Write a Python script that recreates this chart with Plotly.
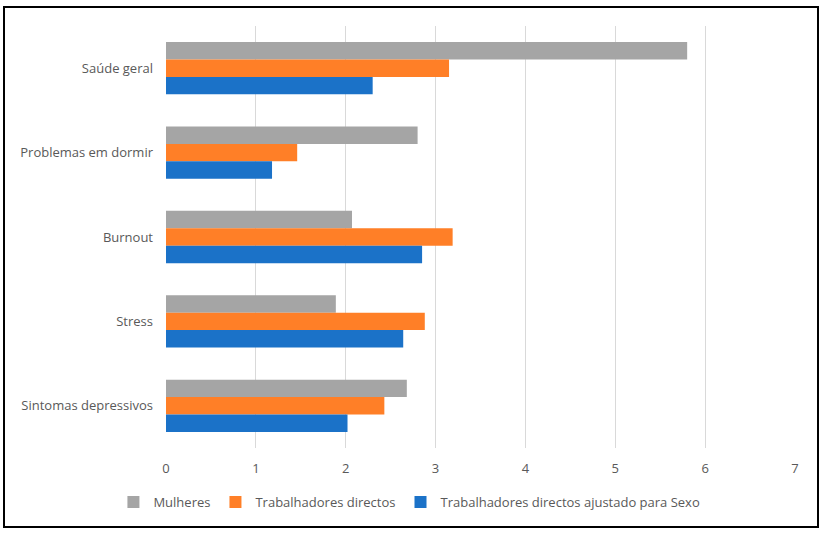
import plotly.graph_objects as go

categories = ["Saúde geral", "Problemas em dormir", "Burnout", "Stress", "Sintomas depressivos"]
mulheres = [5.80, 2.80, 2.07, 1.89, 2.68]
trab_directos = [3.15, 1.46, 3.19, 2.88, 2.43]
trab_ajustado = [2.30, 1.18, 2.85, 2.64, 2.02]
series_names = ["Mulheres", "Trabalhadores directos", "Trabalhadores directos ajustado para Sexo"]
colors = ["#A5A5A5", "#FF7F27", "#1B72C8"]
x_ticks = [0, 1, 2, 3, 4, 5, 6, 7]

fig = go.Figure()
for name, vals, col in zip(series_names, [mulheres, trab_directos, trab_ajustado], colors):
    fig.add_trace(go.Bar(y=categories, x=vals, name=name, orientation="h",
                         marker=dict(color=col, line=dict(width=0))))

fig.update_layout(
    width=824, height=533,
    margin=dict(l=166, r=29, t=26, b=85),
    barmode="group", bargap=0.38, bargroupgap=0,
    plot_bgcolor="white", paper_bgcolor="white",
    font=dict(family="Open Sans", size=13, color="#595959"),
    showlegend=True,
    legend=dict(orientation="h", x=0.387, xanchor="center", y=-0.128, yanchor="middle",
                font=dict(size=13, color="#595959"), traceorder="normal", itemwidth=30),
    xaxis=dict(range=[0, 7], tickvals=x_ticks, showgrid=True, gridcolor="#D9D9D9", gridwidth=1,
               zeroline=False, showline=False, ticks="", ticklabelstandoff=11, fixedrange=True),
    yaxis=dict(autorange="reversed", showgrid=False, zeroline=False, showline=False, ticks="",
               ticklabelstandoff=12),
    shapes=[dict(type="rect", xref="paper", yref="paper",
                 x0=(4 - 166) / 629, x1=(818 - 166) / 629,
                 y0=(448 - 527) / 422, y1=(448 - 7) / 422,
                 line=dict(color="black", width=2), fillcolor="rgba(0,0,0,0)", layer="above")],
)

fig.write_html("out.html", config={"displayModeBar": False},
               post_script="document.body.style.margin='0';document.body.style.overflow='hidden';")
